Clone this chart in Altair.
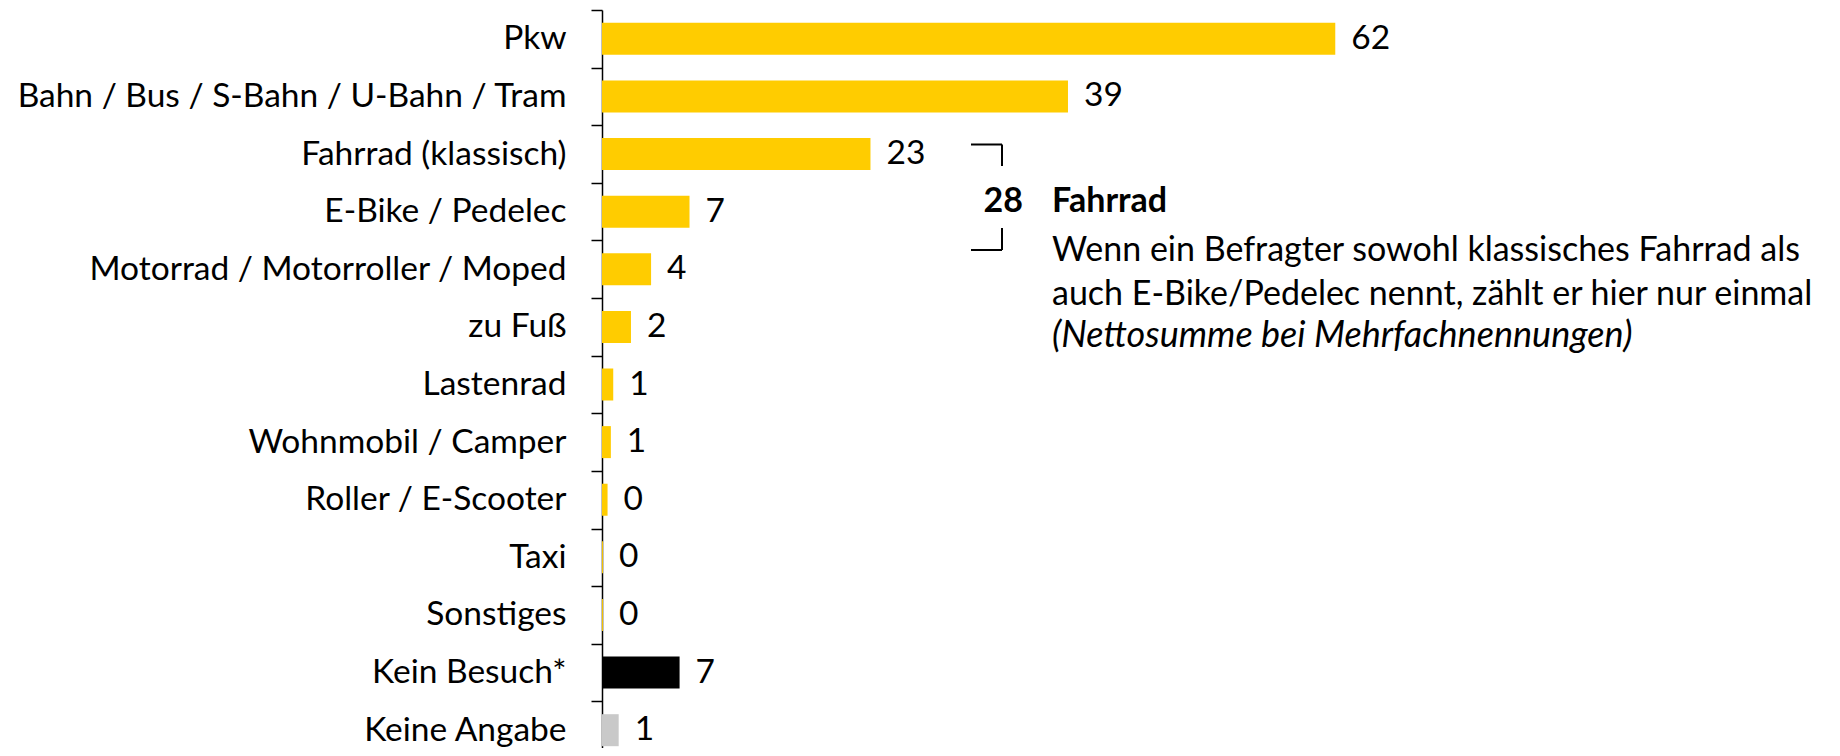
import altair as alt
import pandas as pd

categories = [
    "Pkw",
    "Bahn / Bus / S-Bahn / U-Bahn / Tram",
    "Fahrrad (klassisch)",
    "E-Bike / Pedelec",
    "Motorrad / Motorroller / Moped",
    "zu Fuß",
    "Lastenrad",
    "Wohnmobil / Camper",
    "Roller / E-Scooter",
    "Taxi",
    "Sonstiges",
    "Kein Besuch*",
    "Keine Angabe",
]
values = [62, 39.4, 22.7, 7.4, 4.15, 2.45, 0.95, 0.75, 0.47, 0.08, 0.08, 6.56, 1.41]
value_labels = ["62", "39", "23", "7", "4", "2", "1", "1", "0", "0", "0", "7", "1"]
bar_colors = ["#FFCC00"] * 11 + ["#000000", "#C9C9C9"]

note_total = "28"
note_title = "Fahrrad"
note_lines = [
    "Wenn ein Befragter sowohl klassisches Fahrrad als",
    "auch E-Bike/Pedelec nennt, zählt er hier nur einmal",
]
note_italic = "(Nettosumme bei Mehrfachnennungen)"

FONT = "Lato"
FS = 33.5
FS_NOTE = 34

df = pd.DataFrame({
    "cat": categories,
    "val": values,
    "lab": value_labels,
    "col": bar_colors,
})

W, H = 1230, 738
y_scale = alt.Scale(domain=categories, range=[0, 749], paddingInner=0, paddingOuter=0)
x_scale = alt.Scale(domain=[0, 104], nice=False)

base = alt.Chart(df)

bars = base.mark_bar(size=32).encode(
    y=alt.Y("cat:N", scale=y_scale, sort=categories,
            axis=alt.Axis(title=None, tickBand="extent", tickSize=11, tickWidth=1.5,
                          tickColor="black", domainColor="black", domainWidth=1.5,
                          labelFont=FONT, labelFontSize=FS, labelColor="black",
                          labelPadding=25, labelLimit=800, grid=False)),
    x=alt.X("val:Q", scale=x_scale, axis=None),
    color=alt.Color("col:N", scale=None),
)

texts = base.mark_text(align="left", baseline="middle", dx=16, font=FONT,
                       fontSize=FS, color="black").encode(
    y=alt.Y("cat:N", scale=y_scale, sort=categories),
    x=alt.X("val:Q", scale=x_scale),
    text="lab:N",
)


def px(x):
    return x - 602


def py(y):
    return y - 10


brackets = pd.DataFrame({
    "x": [px(971), px(1002), px(1002), px(971)],
    "x2": [px(1002), px(1002), px(1002), px(1002)],
    "y": [py(144.5), py(144.5), py(228), py(250)],
    "y2": [py(144.5), py(166), py(250), py(250)],
})
bracket_rules = alt.Chart(brackets).mark_rule(color="black", strokeWidth=2).encode(
    x=alt.X("x:Q", scale=None), x2="x2:Q",
    y=alt.Y("y:Q", scale=None), y2="y2:Q",
)


def note(text, x, y, align="left", weight="normal", style="normal", size=FS_NOTE):
    return alt.Chart(pd.DataFrame({"t": [text]})).mark_text(
        align=align, baseline="alphabetic", font=FONT, fontSize=size,
        fontWeight=weight, fontStyle=style, color="black",
    ).encode(x=alt.value(px(x)), y=alt.value(py(y)), text="t:N")


t_total = note(note_total, 1023, 211.5, align="right", weight="bold")
t_title = note(note_title, 1052, 211.5, weight="bold")
t_l1 = note(note_lines[0], 1052, 261)
t_l2 = note(note_lines[1], 1052, 305)
t_l3 = note(note_italic, 1052, 347, style="italic", size=36)

chart = alt.layer(bars, texts, bracket_rules, t_total, t_title, t_l1, t_l2, t_l3).properties(
    width=W, height=H,
    background="white",
    autosize=alt.AutoSizeParams(type="none"),
    padding={"left": 594, "top": 2, "right": 0, "bottom": 0},
).configure_view(stroke=None)

chart.save("out.html", embed_options={"renderer": "svg", "actions": False})
